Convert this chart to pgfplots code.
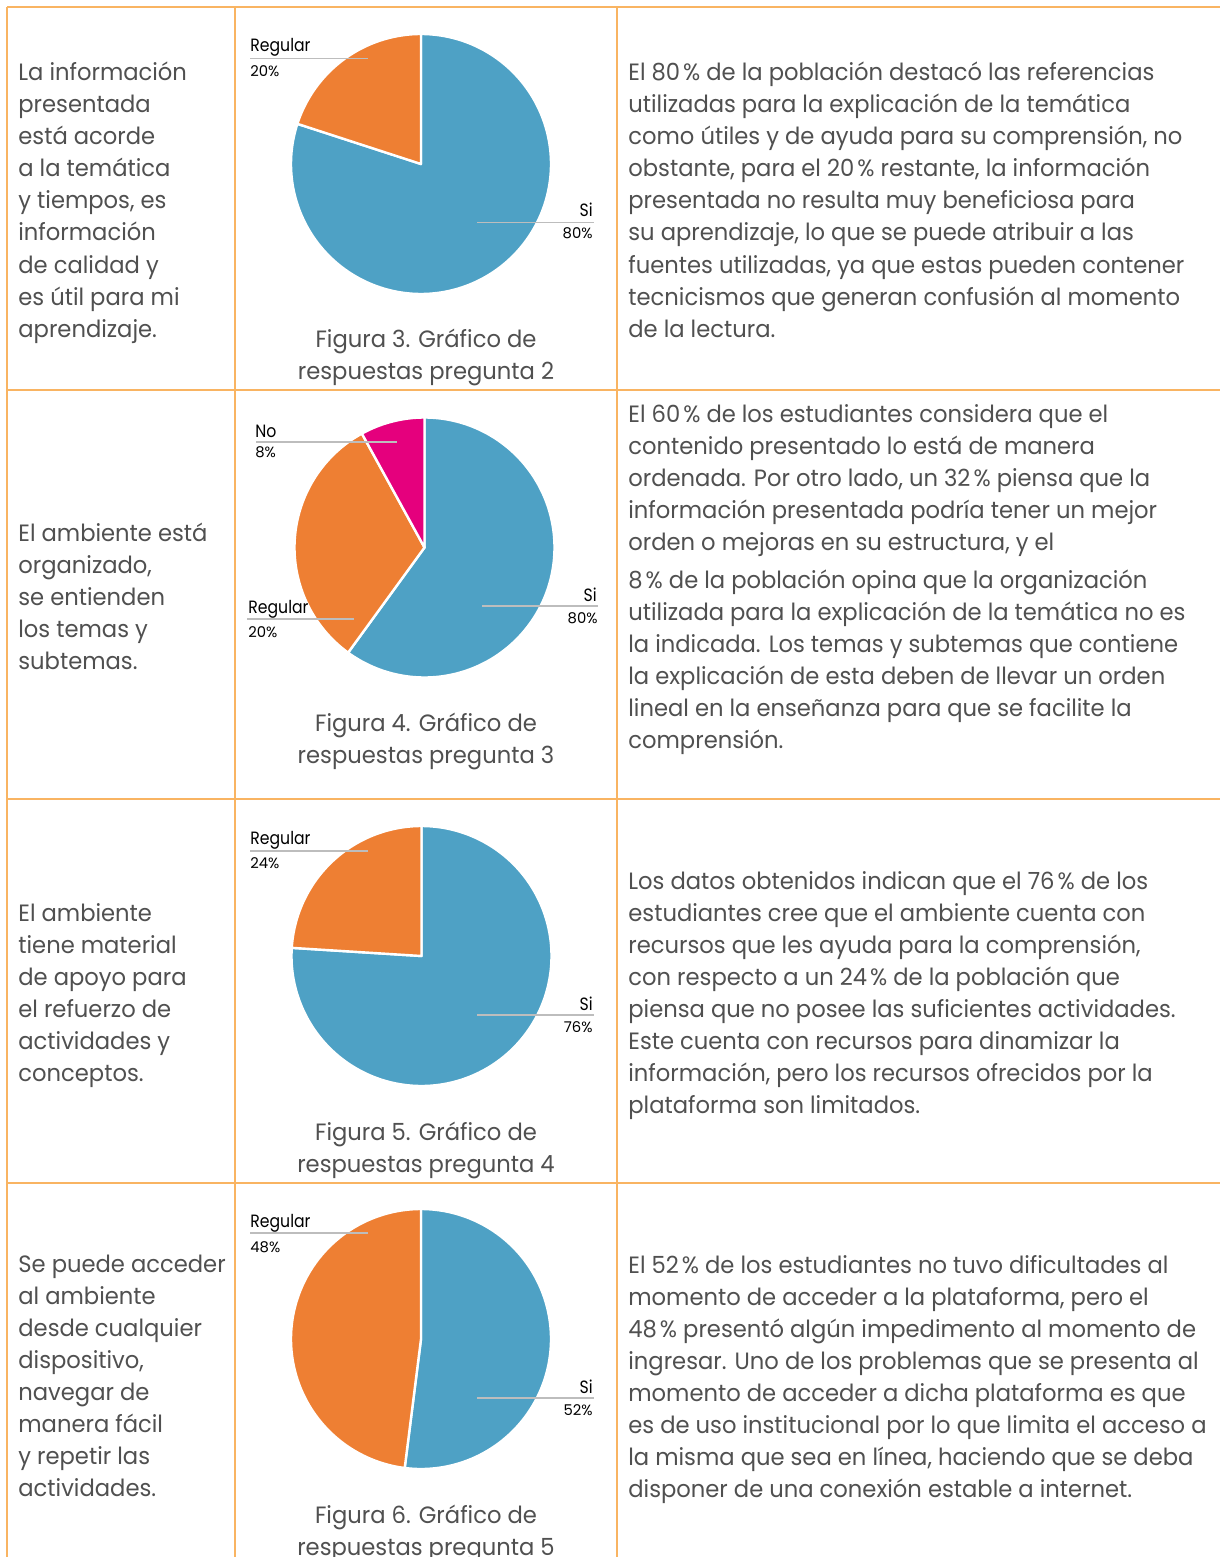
\documentclass[border=0pt]{standalone}
\usepackage{pgfplots}
\pgfplotsset{compat=1.18}
\usepackage{fontspec}
\setmainfont{Poppins}[FakeStretch=0.96]
\newfontfamily\labelfont{Poppins}[FakeStretch=0.88]
\newfontfamily\pctfont{Poppins}
\definecolor{tline}{HTML}{F9B462}
\definecolor{txt}{HTML}{505050}
\definecolor{siblue}{HTML}{4EA1C5}
\definecolor{regorange}{HTML}{EE7F33}
\definecolor{nomag}{HTML}{E5007D}
\definecolor{lead}{HTML}{BDBDBD}

% one pie slice: #1 = cumulative start (percent), #2 = share (percent), #3 = colour
\newcommand{\slice}[3]{\addplot[fill=#3, draw=white, line width=1.2pt, line join=round,
  domain=90-3.6*(#1+#2):90-3.6*(#1), samples=181, variable=\ang]
  ({cos(\ang)},{sin(\ang)}) -- (0,0) -- cycle;}

\pgfplotsset{pie/.style={anchor=center, scale only axis, width=130pt, height=130pt,
  xmin=-1, xmax=1, ymin=-1, ymax=1, hide axis, clip=false}}

\newcommand{\pc}{\hspace{1.5pt}\%}
\newcommand{\bodyfont}{\fontsize{11.8pt}{16pt}\selectfont}
\newcommand{\lines}[4]{\foreach \s [count=\i from 0] in {#4}
  {\node[anchor=#3, inner sep=0pt, text=txt, font=\bodyfont] at (#1, #2+32*\i) {\s};}}
\newcommand{\lname}{\labelfont\fontsize{8.9pt}{10pt}\selectfont}
\newcommand{\lpct}{\pctfont\fontsize{7.4pt}{8pt}\selectfont}

\begin{document}
\begin{tikzpicture}[x=0.5pt, y=-0.5pt]
\clip (0,0) rectangle (1220,1557);
\fill[white] (0,0) rectangle (1220,1557);

% ---- table rules
\begin{scope}[draw=tline, line width=1pt]
\draw (7,7) -- (1220,7);
\draw (7,390) -- (1220,390);
\draw (7,799) -- (1220,799);
\draw (7,1183) -- (1220,1183);
\draw (7,7) -- (7,1557);
\draw (235,7) -- (235,1557);
\draw (617,7) -- (617,1557);
\end{scope}

% ---- pies (centres given in pt: px*0.5, y downwards negative)
\begin{axis}[pie, at={(210.5pt,-82pt)}]
\slice{0}{80}{siblue}
\slice{80}{20}{regorange}
\end{axis}
\begin{axis}[pie, at={(212.25pt,-273.75pt)}]
\slice{0}{60}{siblue}
\slice{60}{32}{regorange}
\slice{92}{8}{nomag}
\end{axis}
\begin{axis}[pie, at={(210.75pt,-478pt)}]
\slice{0}{76}{siblue}
\slice{76}{24}{regorange}
\end{axis}
\begin{axis}[pie, at={(210.5pt,-669.5pt)}]
\slice{0}{52}{siblue}
\slice{52}{48}{regorange}
\end{axis}

% ---- pie labels
\begin{scope}[lead, line width=0.75pt]
\draw (250,58.5) -- (368,58.5);
\draw (477,222.5) -- (594,222.5);
\draw (256,442) -- (397,442);
\draw (247,619) -- (354,619);
\draw (482,606) -- (598,606);
\draw (250,851) -- (368,851);
\draw (477,1015) -- (594,1015);
\draw (250,1233) -- (368,1233);
\draw (477,1398) -- (594,1398);
\end{scope}
\begin{scope}[every node/.style={inner sep=0pt, text=black}]
\node[anchor=base west, font=\lname] at (250,52) {Regular};
\node[anchor=base west, font=\lpct] at (250,77) {20\%};
\node[anchor=base east, font=\lname] at (593,217) {Si};
\node[anchor=base east, font=\lpct] at (593,239) {80\%};
\node[anchor=base west, font=\lname] at (255,437) {No};
\node[anchor=base west, font=\lpct] at (255,457) {8\%};
\node[anchor=base west, font=\lname] at (248,613) {Regular};
\node[anchor=base west, font=\lpct] at (248,637) {20\%};
\node[anchor=base east, font=\lname] at (597,601) {Si};
\node[anchor=base east, font=\lpct] at (598,623) {80\%};
\node[anchor=base west, font=\lname] at (250,844) {Regular};
\node[anchor=base west, font=\lpct] at (250,868) {24\%};
\node[anchor=base east, font=\lname] at (593,1010) {Si};
\node[anchor=base east, font=\lpct] at (593,1032) {76\%};
\node[anchor=base west, font=\lname] at (250,1227) {Regular};
\node[anchor=base west, font=\lpct] at (250,1252) {48\%};
\node[anchor=base east, font=\lname] at (593,1393) {Si};
\node[anchor=base east, font=\lpct] at (593,1415) {52\%};
\end{scope}

% ---- captions
\lines{426}{347}{base}{{Figura 3. Gráfico de},{respuestas pregunta 2}}
\lines{426}{731}{base}{{Figura 4. Gráfico de},{respuestas pregunta 3}}
\lines{426}{1140}{base}{{Figura 5. Gráfico de},{respuestas pregunta 4}}
\lines{426}{1523}{base}{{Figura 6. Gráfico de},{respuestas pregunta 5}}

% ---- left column
\lines{18}{81}{base west}{{La información},{presentada},{está acorde},{a la temática},{y tiempos, es},{información},{de calidad y},{es útil para mi},{aprendizaje.}}
\lines{18}{541}{base west}{{El ambiente está},{organizado,},{se entienden},{los temas y},{subtemas.}}
\lines{18}{921}{base west}{{El ambiente},{tiene material},{de apoyo para},{el refuerzo de},{actividades y},{conceptos.}}
\lines{18}{1272}{base west}{{Se puede acceder},{al ambiente},{desde cualquier},{dispositivo,},{navegar de},{manera fácil},{y repetir las},{actividades.}}

% ---- right column
\lines{628}{81}{base west}{{El 80\pc{} de la población destacó las referencias},{utilizadas para la explicación de la temática},{como útiles y de ayuda para su comprensión, no},{obstante, para el 20\pc{} restante, la información},{presentada no resulta muy beneficiosa para},{su aprendizaje, lo que se puede atribuir a las},{fuentes utilizadas, ya que estas pueden contener},{tecnicismos que generan confusión al momento},{de la lectura.}}
\lines{628}{422}{base west}{{El 60\pc{} de los estudiantes considera que el},{contenido presentado lo está de manera},{ordenada. Por otro lado, un 32\pc{} piensa que la},{información presentada podría tener un mejor},{orden o mejoras en su estructura, y el}}
\lines{628}{588}{base west}{{8\pc{} de la población opina que la organización},{utilizada para la explicación de la temática no es},{la indicada. Los temas y subtemas que contiene},{la explicación de esta deben de llevar un orden},{lineal en la enseñanza para que se facilite la},{comprensión.}}
\lines{628}{889}{base west}{{Los datos obtenidos indican que el 76\pc{} de los},{estudiantes cree que el ambiente cuenta con},{recursos que les ayuda para la comprensión,},{con respecto a un 24\pc{} de la población que},{piensa que no posee las suficientes actividades.},{Este cuenta con recursos para dinamizar la},{información, pero los recursos ofrecidos por la},{plataforma son limitados.}}
\lines{628}{1273}{base west}{{El 52\pc{} de los estudiantes no tuvo dificultades al},{momento de acceder a la plataforma, pero el},{48\pc{} presentó algún impedimento al momento de},{ingresar. Uno de los problemas que se presenta al},{momento de acceder a dicha plataforma es que},{es de uso institucional por lo que limita el acceso a},{la misma que sea en línea, haciendo que se deba},{disponer de una conexión estable a internet.}}
\end{tikzpicture}
\end{document}
